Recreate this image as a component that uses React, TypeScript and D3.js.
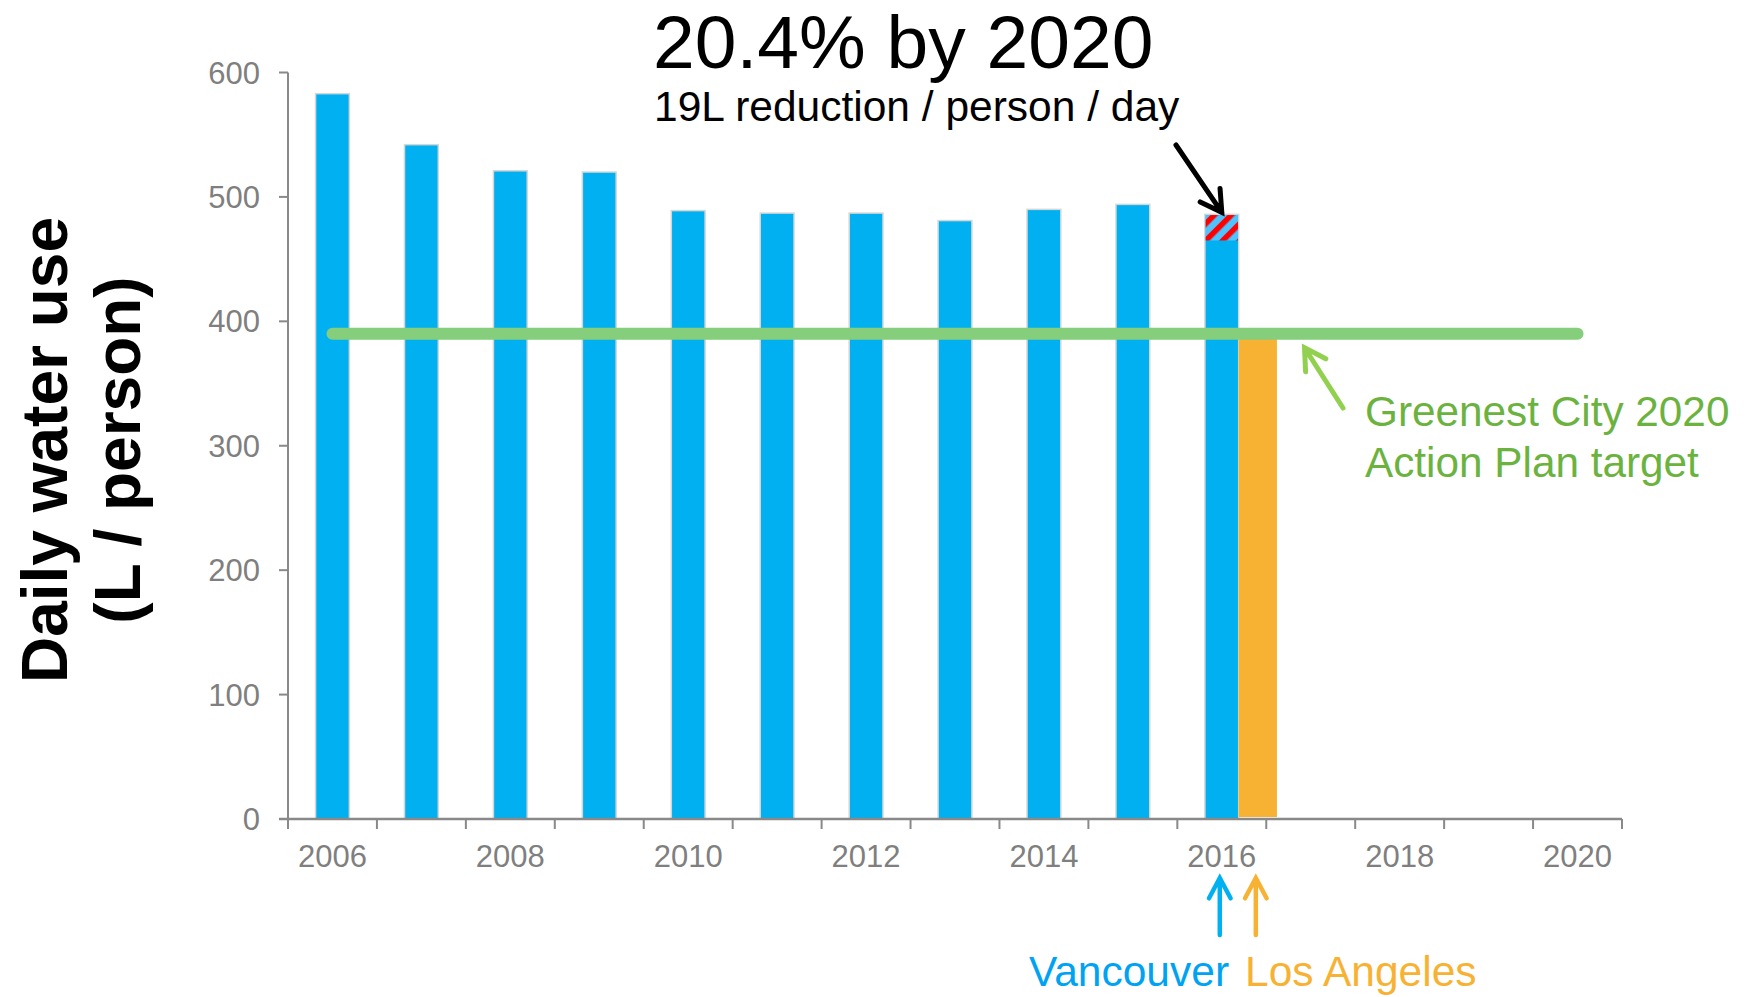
import React from 'react';
import * as d3 from 'd3';

const years = ['2006','2007','2008','2009','2010','2011','2012','2013','2014','2015','2016','2017','2018','2019','2020'];
const vancouverYears = ['2006','2007','2008','2009','2010','2011','2012','2013','2014','2015','2016'];
const vancouverUse = [583, 542, 521, 520, 489, 487, 487, 481, 490, 494, 486];
const reductionYear = '2016';
const reductionLitres = 21;
const laYears = ['2016'];
const laUse = [387];
const targetValue = 390;
const targetYears = ['2006', '2020'];
const yTicks = [0, 100, 200, 300, 400, 500, 600];
const xTickLabels = ['2006','2008','2010','2012','2014','2016','2018','2020'];

const W = 1752;
const H = 997;
const FONT = '"Liberation Sans", Arial, Helvetica, sans-serif';
const AXIS = '#898989';
const BLUE = '#00B0F0';
const ORANGE = '#F8B233';
const GREEN_LINE = '#85CE7B';
const GREEN_TEXT = '#6BB33E';
const GREEN_ARROW = '#92D050';

function arrow(x1: number, y1: number, x2: number, y2: number, len: number, deg: number) {
  const a = Math.atan2(y2 - y1, x2 - x1);
  const r = (deg * Math.PI) / 180;
  const ax1 = x2 - len * Math.cos(a - r);
  const ay1 = y2 - len * Math.sin(a - r);
  const ax2 = x2 - len * Math.cos(a + r);
  const ay2 = y2 - len * Math.sin(a + r);
  return `M${x1},${y1}L${x2},${y2}M${ax1},${ay1}L${x2},${y2}L${ax2},${ay2}`;
}

export default function App() {
  const x = d3.scaleBand<string>().domain(years).range([288, 1622]).padding(0);
  const y = d3.scaleLinear().domain([0, 600]).range([819, 72.5]);
  const bw = x.bandwidth();
  const barW = bw * 0.38;
  const laW = bw * 0.43;
  const barX = (yr: string) => (x(yr) as number) + (bw - barW) / 2;
  const boundaries = d3.range(years.length + 1).map((i) => 288 + i * bw);

  const v16 = vancouverUse[vancouverYears.indexOf(reductionYear)];
  const v16x = barX(reductionYear);
  const v16c = v16x + barW / 2;
  const laX = (yr: string) => barX(yr) + barW;
  const laC = laX(laYears[0]) + laW / 2;

  const tStart = (x(targetYears[0]) as number) + bw / 2;
  const tEnd = (x(targetYears[1]) as number) + bw / 2;

  const gTipX = (x('2017') as number) + bw * 0.43;
  const gTipY = y(targetValue) + 14;

  return (
    <svg width={W} height={H} style={{ position: 'absolute', left: 0, top: 0, display: 'block', background: '#fff' }} fontFamily={FONT}>
      <defs>
        <pattern id="hatch" patternUnits="userSpaceOnUse" width={12} height={12} patternTransform="rotate(45)">
          <rect width={12} height={12} fill="#4DC4FF" />
          <rect width={5.5} height={12} fill="#FF0000" />
        </pattern>
      </defs>
      <rect width={W} height={H} fill="#fff" />

      {/* bars */}
      {vancouverYears.map((yr, i) => (
        <rect key={yr} x={barX(yr)} y={y(vancouverUse[i])} width={barW} height={y(0) - y(vancouverUse[i])}
          fill={BLUE} stroke="#D6D6D6" strokeWidth={1.5} />
      ))}
      <rect x={v16x + 0.75} y={y(v16) + 0.75} width={barW - 1.5} height={y(v16 - reductionLitres) - y(v16) - 0.75} fill="url(#hatch)" />
      {laYears.map((yr, i) => (
        <rect key={'la' + yr} x={laX(yr)} y={y(laUse[i])} width={laW} height={y(0) - y(laUse[i]) - 2} fill={ORANGE} />
      ))}

      {/* target line */}
      <line x1={tStart} x2={tEnd} y1={y(targetValue)} y2={y(targetValue)} stroke={GREEN_LINE} strokeWidth={12} strokeLinecap="round" />

      {/* axes */}
      <line x1={288} x2={288} y1={y(600)} y2={y(0) + 10} stroke={AXIS} strokeWidth={2} />
      <line x1={279} x2={1622} y1={y(0)} y2={y(0)} stroke={AXIS} strokeWidth={2.5} />
      {yTicks.map((t) => (
        <g key={t}>
          <line x1={279} x2={288} y1={y(t)} y2={y(t)} stroke={AXIS} strokeWidth={2} />
          <text x={260} y={y(t) + 11} textAnchor="end" fontSize={31} fill="#7F7F7F">{t}</text>
        </g>
      ))}
      {boundaries.map((b, i) => (
        <line key={i} x1={b} x2={b} y1={y(0)} y2={y(0) + 10} stroke={AXIS} strokeWidth={2} />
      ))}
      {xTickLabels.map((l) => (
        <text key={l} x={(x(l) as number) + bw / 2} y={867} textAnchor="middle" fontSize={31} fill="#7F7F7F">{l}</text>
      ))}

      {/* y title */}
      <text transform={`translate(67,450) rotate(-90)`} textAnchor="middle" fontSize={64} fontWeight="bold" fill="#000">Daily water use</text>
      <text transform={`translate(140,450) rotate(-90)`} textAnchor="middle" fontSize={64} fontWeight="bold" fill="#000">(L / person)</text>

      {/* title */}
      <text x={653} y={68} fontSize={75} fill="#000">20.4% by 2020</text>
      <text x={654} y={121} fontSize={42.5} fill="#000">19L reduction / person / day</text>

      {/* black arrow */}
      <path d={arrow(1176, 145, v16c, y(v16) - 2, 24, 30)} fill="none" stroke="#000" strokeWidth={5} strokeLinecap="round" strokeLinejoin="miter" />

      {/* green annotation */}
      <path d={arrow(1343, 408, gTipX, gTipY, 24, 30)} fill="none" stroke={GREEN_ARROW} strokeWidth={5} strokeLinecap="round" />
      <text x={1365} y={426} fontSize={42.3} fill={GREEN_TEXT}>Greenest City 2020</text>
      <text x={1365} y={477} fontSize={42.3} fill={GREEN_TEXT}>Action Plan target</text>

      {/* city arrows */}
      <path d={arrow(v16c - 2, 935, v16c - 2, 878, 23, 28)} fill="none" stroke={BLUE} strokeWidth={4.5} strokeLinecap="round" />
      <path d={arrow(laC - 2, 935, laC - 2, 878, 23, 28)} fill="none" stroke={ORANGE} strokeWidth={4.5} strokeLinecap="round" />
      <text x={1029} y={986} fontSize={42.5} fill="#00A3F2">Vancouver</text>
      <text x={1245} y={986} fontSize={42.5} fill={ORANGE}>Los Angeles</text>
    </svg>
  );
}
